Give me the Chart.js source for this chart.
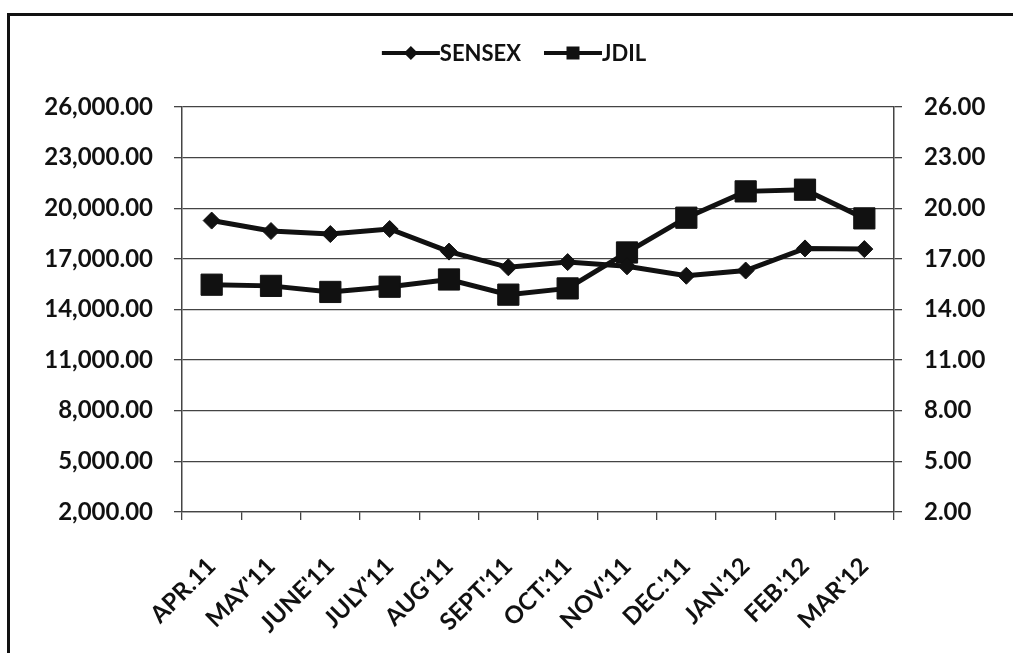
<!DOCTYPE html>
<html>
<head>
<meta charset="utf-8">
<script src="https://cdn.jsdelivr.net/npm/chart.js"></script>
<style>
  html, body { margin: 0; padding: 0; background: #fff; }
  #wrap { position: relative; width: 1013px; height: 653px; overflow: hidden; }
  #frame { position: absolute; left: 7px; top: 13px; right: -5px; bottom: -5px;
           border-left: 3px solid #111; border-top: 3px solid #111; pointer-events: none; }
  canvas { position: absolute; left: 0; top: 0; }
</style>
</head>
<body>
<div id="wrap">
  <canvas id="GraphSensex" width="1013" height="653"></canvas>
  <div id="frame"></div>
</div>
<script>
// values
var months = ["APR.11", "MAY'11", "JUNE'11", "JULY'11", "AUG'11", "SEPT.'11",
              "OCT.'11", "NOV.'11", "DEC.'11", "JAN.'12", "FEB.'12", "MAR'12"];
var sensex = [19270, 18650, 18470, 18770, 17430, 16500, 16810, 16560, 16000, 16310, 17620, 17580];
var jdil = [15.47, 15.40, 15.04, 15.35, 15.78, 14.88, 15.25, 17.38, 19.44, 21.00, 21.10, 19.40];

var leftTicks = { min: 2000, max: 26000, step: 3000 };
var rightTicks = { min: 2, max: 26, step: 3 };

var ink = "#111";
var gridColor = "#444";

// excel style legend: line with marker, then the name
var lineLegend = {
    id: "lineLegend",
    afterDraw: function(chart) {
        var g = chart.ctx;
        var lineLen = 58, gap = 23, cy = 53;
        g.save();
        g.font = "bold 22px Lato";
        g.textBaseline = "middle";
        g.textAlign = "left";
        var sets = chart.data.datasets;
        var total = 0;
        sets.forEach(function(ds, i) {
            total += lineLen + g.measureText(ds.label).width + (i ? gap : 0);
        });
        var x = 514 - total / 2;
        sets.forEach(function(ds, i) {
            if (i) x += gap;
            g.strokeStyle = ds.borderColor;
            g.fillStyle = ds.borderColor;
            g.lineWidth = 4;
            g.beginPath();
            g.moveTo(x, cy);
            g.lineTo(x + lineLen, cy);
            g.stroke();
            var mx = x + lineLen / 2;
            g.beginPath();
            if (ds.pointStyle == "rectRot") {
                g.moveTo(mx, cy - 7); g.lineTo(mx + 7, cy); g.lineTo(mx, cy + 7); g.lineTo(mx - 7, cy);
            } else {
                g.rect(mx - 6.5, cy - 6.5, 13, 13);
            }
            g.fill();
            x += lineLen;
            g.fillStyle = ink;
            g.fillText(ds.label, x, cy + 1);
            x += g.measureText(ds.label).width;
        });
        g.restore();
    }
};

function draw() {
    Chart.defaults.font.family = "Lato";
    Chart.defaults.font.weight = "bold";
    Chart.defaults.color = ink;

    var chartdata = {
        labels: months,
        datasets: [
            {
                label: "SENSEX",
                data: sensex,
                yAxisID: "y",
                borderColor: ink,
                backgroundColor: ink,
                borderWidth: 5,
                pointStyle: "rectRot",
                pointRadius: 8.5,
                pointBorderWidth: 1,
                pointBackgroundColor: ink,
                pointBorderColor: ink,
                lineTension: 0,
                fill: false
            },
            {
                label: "JDIL",
                data: jdil,
                yAxisID: "y1",
                borderColor: ink,
                backgroundColor: ink,
                borderWidth: 5,
                pointStyle: "rect",
                pointRadius: 15,
                pointBorderWidth: 1,
                pointBackgroundColor: ink,
                pointBorderColor: ink,
                lineTension: 0,
                fill: false
            }
        ]
    };

    var ctx = document.getElementById("GraphSensex");
    new Chart(ctx, {
        type: "line",
        data: chartdata,
        plugins: [lineLegend],
        options: {
            responsive: false,
            animation: false,
            layout: { padding: { top: 107, left: 0, right: 0, bottom: 0 } },
            plugins: {
                tooltip: { enabled: false },
                legend: { display: false }
            },
            scales: {
                x: {
                    offset: true,
                    grid: { drawOnChartArea: false, drawTicks: true, tickLength: 8, color: gridColor, lineWidth: 1.3, offset: true },
                    border: { display: true, color: gridColor, width: 1.3 },
                    ticks: { maxRotation: 45, minRotation: 45, padding: 32, font: { size: 24, weight: "bold" }, color: ink },
                    afterFit: function(scale) { scale.height = 141; }
                },
                y: {
                    position: "left",
                    min: leftTicks.min,
                    max: leftTicks.max,
                    grid: { color: gridColor, lineWidth: 1.3, tickLength: 8 },
                    border: { display: true, color: gridColor, width: 1.5 },
                    ticks: {
                        stepSize: leftTicks.step,
                        padding: 21,
                        font: { size: 24, weight: "bold" },
                        color: ink,
                        callback: function(v) {
                            return v.toLocaleString("en-US", { minimumFractionDigits: 2, maximumFractionDigits: 2 });
                        }
                    },
                    afterFit: function(scale) { scale.width = 182; }
                },
                y1: {
                    position: "right",
                    min: rightTicks.min,
                    max: rightTicks.max,
                    grid: { drawOnChartArea: false, color: gridColor, lineWidth: 1.3, tickLength: 8 },
                    border: { display: true, color: gridColor, width: 1.5 },
                    ticks: {
                        stepSize: rightTicks.step,
                        padding: 22,
                        font: { size: 24, weight: "bold" },
                        color: ink,
                        callback: function(v) { return v.toFixed(2); }
                    },
                    afterFit: function(scale) { scale.width = 119; }
                }
            }
        }
    });
}

if (document.fonts && document.fonts.load) {
    document.fonts.load("bold 24px Lato").then(draw, draw);
} else {
    draw();
}
</script>
</body>
</html>
